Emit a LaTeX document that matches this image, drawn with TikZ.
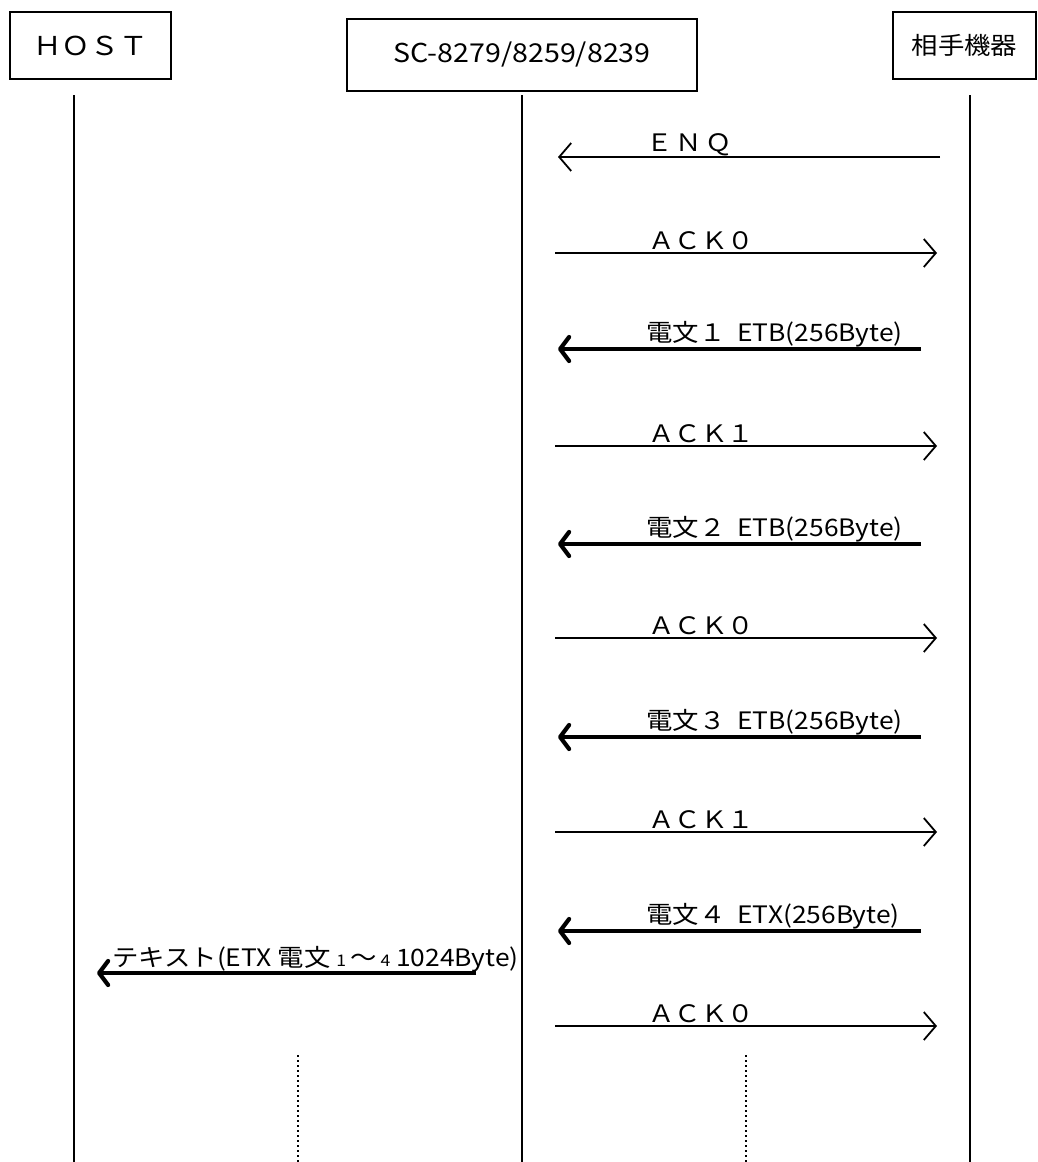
\documentclass[tikz,border=0pt]{standalone}
\usepackage{fontspec}
\newfontfamily\jpfont[FakeStretch=1.1]{Noto Sans CJK JP}
\usetikzlibrary{arrows.meta}
\begin{document}
\begin{tikzpicture}[x=1pt,y=-1pt]
        \tikzstyle{every node} = [font=\jpfont\fontsize{24}{28}\selectfont]
        \tikzstyle{unit} = [draw, rectangle, line width=1.8pt, inner sep=0pt]
        \tikzstyle{life} = [line width=2.5pt]
        \tikzstyle{cont} = [line width=2pt, dash pattern=on 2pt off 3pt]
        \tikzstyle{msg} = [line width=1.8pt, -{Straight Barb[length=12pt,width=28pt]}]
        \tikzstyle{data} = [line width=4.2pt, -{Straight Barb[length=9pt,width=24pt,round]}]
        \tikzstyle{lbl} = [anchor=base west, inner sep=0pt]
        \useasboundingbox (0,0) rectangle (1038,1162);

        \node[unit, minimum width=161, minimum height=67, font=\jpfont\fontsize{26}{30}\selectfont] (host) at (90.5,45.5) {ＨＯＳＴ};
        \node[unit, minimum width=350, minimum height=72, font=\jpfont\fontsize{26}{30}\selectfont] (sc) at (522,55) {SC-8279/8259/8239};
        \node[unit, minimum width=143, minimum height=67] (peer) at (964.5,45.5) {相手機器};

        % lifelines
        \foreach \n/\x in {host/74, sc/522, peer/970} {
            \coordinate (\n top) at (\x,95);
            \coordinate (\n bot) at (\x,1162);
            \draw[life] (\n top) -- (\n bot);
        }
        \foreach \n/\x in {a/298, b/746} {
            \coordinate (\n top) at (\x,1055);
            \coordinate (\n bot) at (\x,1162);
            \draw[cont] (\n top) -- (\n bot);
        }

        % ENQ
        \coordinate (p157) at (940,157);
        \coordinate (s157) at (558,157);
        \draw[msg] (p157) -- (s157);
        \node[lbl] (l157) at (646,151) {Ｅ\hspace{3pt}Ｎ\hspace{3pt}Ｑ};

        % acknowledges
        \foreach \y/\txt in {253/ＡＣＫ０, 446/ＡＣＫ１, 638/ＡＣＫ０, 832/ＡＣＫ１, 1026/ＡＣＫ０} {
            \coordinate (s\y) at (555,\y);
            \coordinate (p\y) at (937,\y);
            \draw[msg] (s\y) -- (p\y);
            \node[lbl] (l\y) at (648,\y-4) {\txt};
        }

        % data blocks
        \foreach \y/\txt in {349/電文１\ \ ETB(256Byte), 544/電文２\ \ ETB(256Byte), 737/電文３\ \ ETB(256Byte), 931/電文４\ \ ETX(256Byte)} {
            \coordinate (p\y) at (921,\y);
            \coordinate (s\y) at (558,\y);
            \draw[data] (p\y) -- (s\y);
            \node[lbl] (l\y) at (646,\y-8) {\txt};
        }

        % to host
        \coordinate (s973) at (476,973);
        \coordinate (h973) at (97,973);
        \draw[data] (s973) -- (h973);
        \node[lbl] (l973) at (112,966) {テキスト(ETX 電文\ {\fontsize{16}{18}\selectfont 1}\,～\,{\fontsize{16}{18}\selectfont 4}\ 1024Byte)};
\end{tikzpicture}
\end{document}
